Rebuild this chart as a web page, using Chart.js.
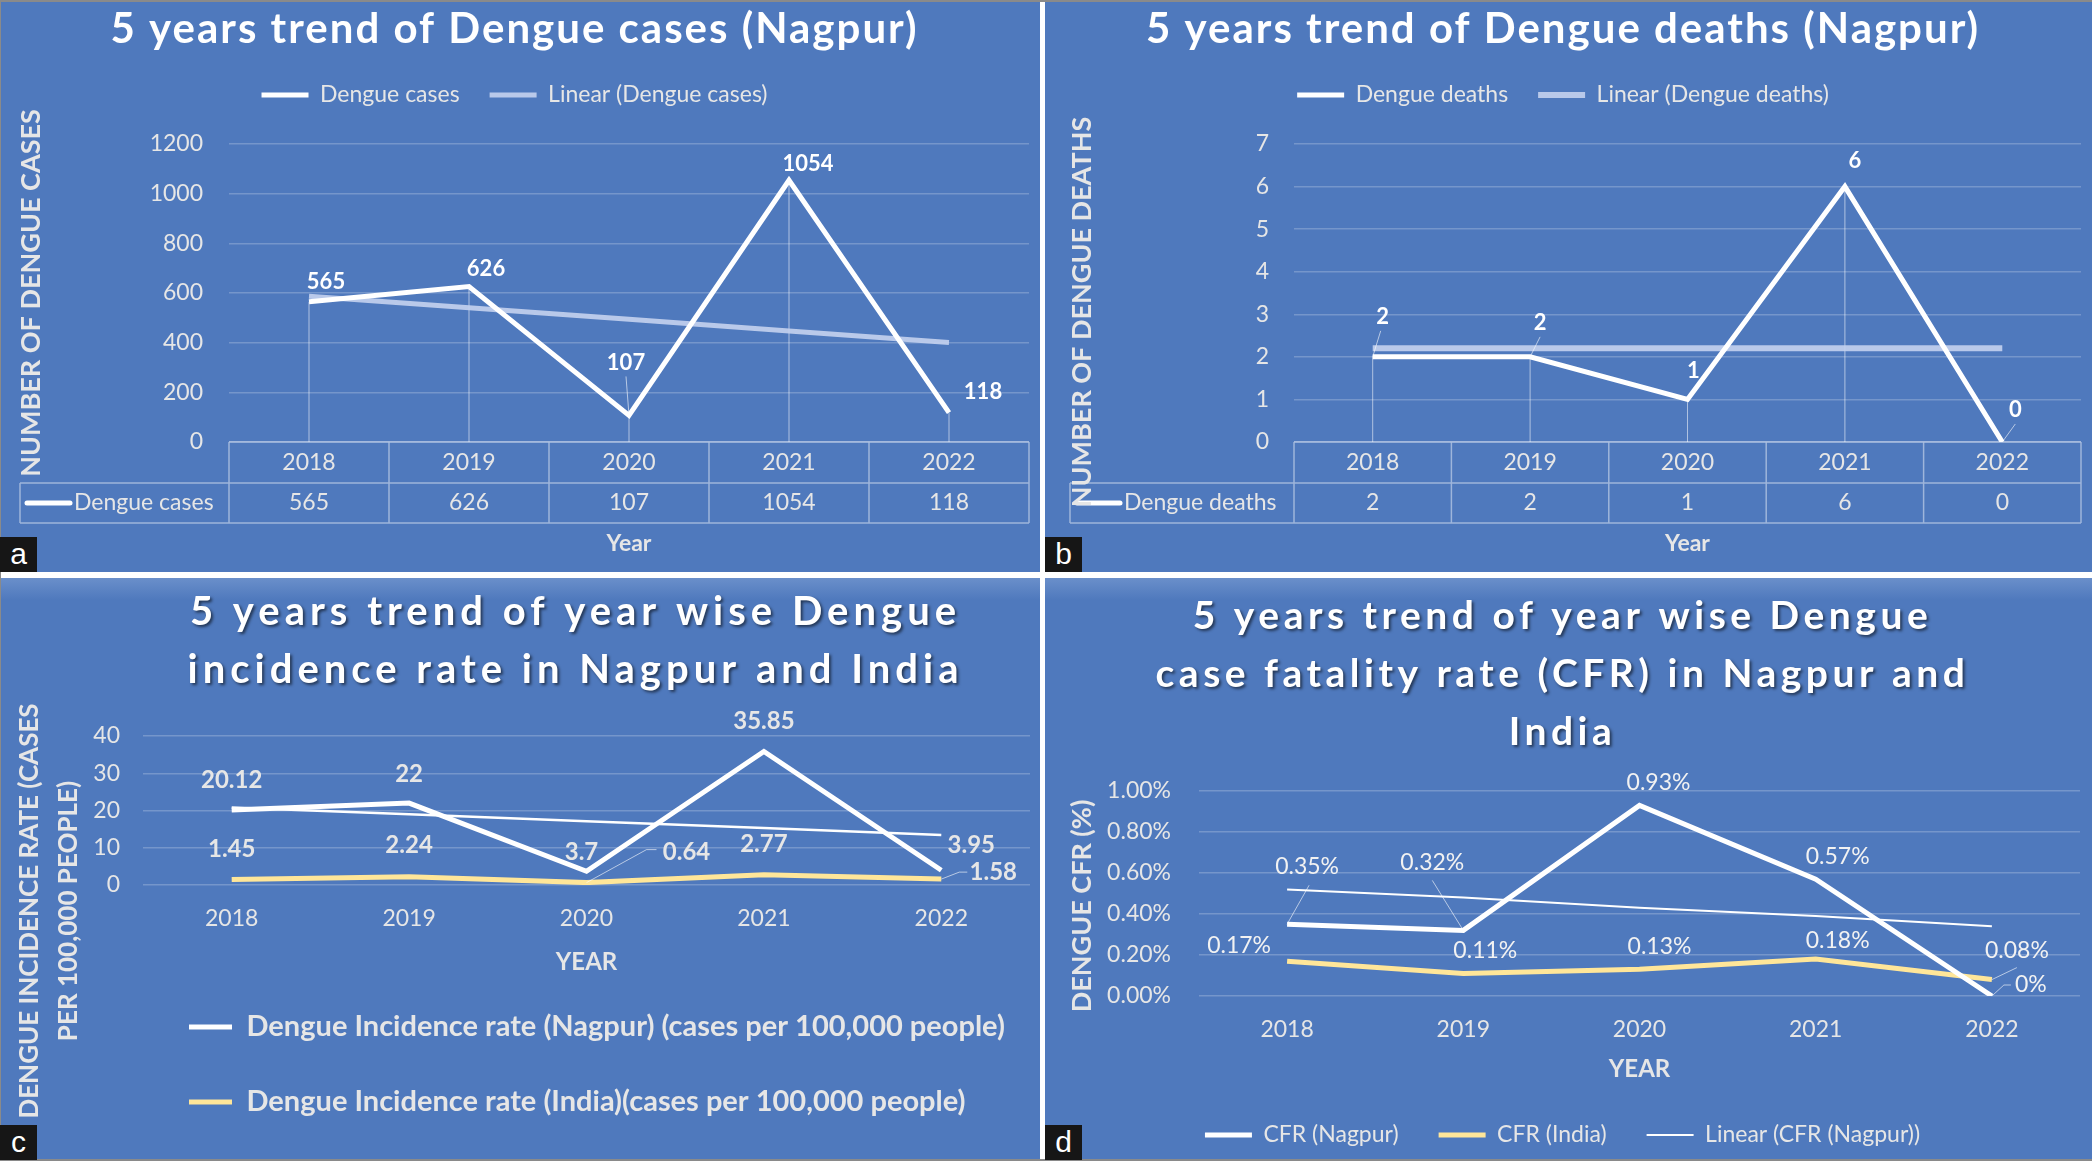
<!doctype html>
<html>
<head>
<title>Dengue trends Nagpur</title>
<script src="https://cdn.jsdelivr.net/npm/chart.js"></script>
<style>
body { margin: 0; background: #fff; }
#page { position: relative; width: 2092px; height: 1161px; background: #fff; overflow: hidden; }
.panel { position: absolute; background: #4f79bd; }
.lit { background: linear-gradient(to bottom, #6a8fca 0px, #4f79bd 22px); }
.tag { position: absolute; width: 37px; height: 35px; background: #161616; color: #fff;
       font: 30px "Liberation Sans", Arial, sans-serif; line-height: 33px; text-align: center; }
.edge { position: absolute; background: #8a8a8a; }
</style>
</head>
<body>
<div id="page">
	<div class="panel" style="left:0;top:0;width:1040px;height:572px"><canvas id="ca"></canvas></div>
	<div class="panel" style="left:1045px;top:0;width:1047px;height:572px"><canvas id="cb"></canvas></div>
	<div class="panel lit" style="left:0;top:578px;width:1040px;height:583px"><canvas id="cc"></canvas></div>
	<div class="panel lit" style="left:1045px;top:578px;width:1047px;height:583px"><canvas id="cd"></canvas></div>
	<div class="edge" style="left:0;top:0;width:2092px;height:2px"></div>
	<div class="edge" style="left:0;top:1159px;width:2092px;height:2px"></div>
	<div class="edge" style="left:0;top:0;width:1px;height:1161px"></div>
	<div class="tag" style="left:0;top:537px">a</div>
	<div class="tag" style="left:1045px;top:537px">b</div>
	<div class="tag" style="left:0;top:1125px">c</div>
	<div class="tag" style="left:1045px;top:1125px">d</div>
</div>

<script>
// ---- data ----
var years = ['2018', '2019', '2020', '2021', '2022'];

var dengueCases  = [565, 626, 107, 1054, 118];
var casesTrend   = [587, 541, 494, 447, 401];      // Excel linear trendline

var dengueDeaths = [2, 2, 1, 6, 0];
var deathsTrend  = [2.2, 2.2, 2.2, 2.2, 2.2];

var incidenceNagpur = [20.12, 22, 3.7, 35.85, 3.95];
var incidenceIndia  = [1.45, 2.24, 0.64, 2.77, 1.58];
var incidenceTrend  = [20.8, 19.0, 17.1, 15.3, 13.4];

var cfrNagpur = [0.35, 0.32, 0.93, 0.57, 0];      // percent
var cfrIndia  = [0.17, 0.11, 0.13, 0.18, 0.08];
var cfrTrend  = [0.52, 0.48, 0.43, 0.39, 0.34];

// ---- look ----
var FAM = 'Lato, "Open Sans", sans-serif';
var WHITE = '#ffffff';
var TEXT = '#e6e6e6';
var TREND = 'rgba(196,210,238,0.9)';
var YELLOW = '#ffe699';
var GRID = 'rgba(255,255,255,0.22)';

Chart.defaults.font.family = FAM;
Chart.defaults.color = TEXT;

// value labels next to the points (positions are offsets from the point)
function pointLabels(sets) {
	return {
		id: 'pointLabels',
		afterDatasetsDraw: function(chart) {
			var ctx = chart.ctx;
			sets.forEach(function(set) {
				var meta = chart.getDatasetMeta(set.index);
				var data = chart.data.datasets[set.index].data;
				ctx.save();
				ctx.font = set.font;
				ctx.fillStyle = set.color;
				ctx.textAlign = 'center';
				ctx.textBaseline = 'middle';
				meta.data.forEach(function(pt, i) {
					var p = set.pos[i];
					var lx = pt.x + p[0], ly = pt.y + p[1];
					if (p[2]) {
						ctx.strokeStyle = 'rgba(255,255,255,0.6)';
						ctx.lineWidth = 1;
						ctx.beginPath();
						p[2].forEach(function(o, k) {
							if (k === 0) ctx.moveTo(lx + o[0], ly + o[1]); else ctx.lineTo(lx + o[0], ly + o[1]);
						});
						ctx.lineTo(pt.x, pt.y);
						ctx.stroke();
					}
					ctx.fillText(String(data[i]) + (set.suffix || ''), lx, ly);
				});
				ctx.restore();
			});
		}
	};
}

// thin vertical lines from each point down to the axis
var dropLines = {
	id: 'dropLines',
	beforeDatasetsDraw: function(chart) {
		var ctx = chart.ctx, bottom = chart.chartArea.bottom;
		ctx.save();
		ctx.strokeStyle = 'rgba(255,255,255,0.55)';
		ctx.lineWidth = 1;
		chart.getDatasetMeta(0).data.forEach(function(pt) {
			ctx.beginPath(); ctx.moveTo(pt.x, pt.y); ctx.lineTo(pt.x, bottom); ctx.stroke();
		});
		ctx.restore();
	}
};

// Excel style data table under the x axis
function dataTable(tableLeft) {
	return {
		id: 'dataTable',
		afterDraw: function(chart) {
			var ctx = chart.ctx, a = chart.chartArea, xs = chart.scales.x;
			var n = chart.data.labels.length, w = (a.right - a.left) / n;
			var r1 = a.bottom + 41, r2 = a.bottom + 81;
			var ds = chart.data.datasets[0];
			ctx.save();
			ctx.strokeStyle = 'rgba(255,255,255,0.45)';
			ctx.lineWidth = 1.5;
			ctx.beginPath();
			ctx.moveTo(a.left, a.bottom); ctx.lineTo(a.right, a.bottom);
			ctx.moveTo(tableLeft, r1); ctx.lineTo(a.right, r1);
			ctx.moveTo(tableLeft, r2); ctx.lineTo(a.right, r2);
			ctx.moveTo(tableLeft, r1); ctx.lineTo(tableLeft, r2);
			for (var i = 0; i <= n; i++) {
				ctx.moveTo(a.left + i * w, a.bottom); ctx.lineTo(a.left + i * w, r2);
			}
			ctx.stroke();
			ctx.font = '23px ' + FAM;
			ctx.fillStyle = TEXT;
			ctx.textAlign = 'center';
			ctx.textBaseline = 'middle';
			var ym = (r1 + r2) / 2;
			ds.data.forEach(function(v, i) { ctx.fillText(String(v), xs.getPixelForTick(i), ym); });
			ctx.strokeStyle = ds.borderColor;
			ctx.lineWidth = 5;
			ctx.lineCap = 'round';
			ctx.beginPath(); ctx.moveTo(tableLeft + 7, ym); ctx.lineTo(tableLeft + 50, ym); ctx.stroke();
			ctx.textAlign = 'left';
			ctx.fillText(ds.label, tableLeft + 54, ym);
			ctx.restore();
		}
	};
}

// letter spacing (and optional shadow / nudge) on the chart titles
function titleStyle(spacing, shadow, dx) {
	return {
		id: 'titleStyle',
		beforeDraw: function(chart) {
			var tb = chart.titleBlock;
			if (!tb || tb._styled) return;
			var orig = tb.draw.bind(tb);
			tb.draw = function(area) {
				var ctx = chart.ctx;
				ctx.save();
				if (dx) ctx.translate(dx, 0);
				if (shadow) {
					ctx.shadowColor = 'rgba(0,0,0,0.55)';
					ctx.shadowOffsetX = 2;
					ctx.shadowOffsetY = 2;
					ctx.shadowBlur = 3;
				}
				if ('letterSpacing' in ctx) ctx.letterSpacing = spacing + 'px';
				orig(area);
				ctx.restore();
			};
			tb._styled = true;
		}
	};
}

// rotated axis title placed freely (panels b, c, d)
function sideTitle(lines, xs, yc, font) {
	return {
		id: 'sideTitle',
		afterDraw: function(chart) {
			var ctx = chart.ctx;
			ctx.save();
			ctx.font = font;
			ctx.fillStyle = TEXT;
			ctx.textAlign = 'center';
			ctx.textBaseline = 'middle';
			lines.forEach(function(t, i) {
				ctx.save();
				ctx.translate(xs[i], yc);
				ctx.rotate(-Math.PI / 2);
				ctx.fillText(t, 0, 0);
				ctx.restore();
			});
			ctx.restore();
		}
	};
}

function gapAxis(h) {
	return { position: 'top', type: 'category', display: true,
		grid: { display: false }, border: { display: false }, ticks: { display: false },
		afterFit: function(s) { s.height = h; } };
}

function lineSet(label, data, color, width) {
	return { label: label, data: data, borderColor: color, backgroundColor: color,
		borderWidth: width, pointRadius: 0, fill: false, tension: 0 };
}

function plainTick(v) { return String(v); }

// ---- a: dengue cases ----
new Chart(document.getElementById('ca'), {
	type: 'line',
	data: {
		labels: years,
		datasets: [
			lineSet('Dengue cases', dengueCases, WHITE, 5),
			lineSet('Linear (Dengue cases)', casesTrend, TREND, 5)
		]
	},
	options: {
		animation: false, responsive: true, maintainAspectRatio: false,
		layout: { padding: { left: 0, right: 11, top: 0, bottom: 0 } },
		plugins: {
			title: { display: true, text: '5 years trend of Dengue cases (Nagpur)', color: WHITE,
				font: { size: 42, weight: 'bold', lineHeight: 1.2 }, padding: { top: 3.8, bottom: -0.7 } },
			legend: { labels: { usePointStyle: true, pointStyle: 'line', pointStyleWidth: 47,
				font: { size: 23 }, color: TEXT, padding: 30 } },
			tooltip: { enabled: false }
		},
		scales: {
			x: { offset: true, grid: { display: false, drawTicks: false }, border: { display: false },
				ticks: { color: TEXT, font: { size: 23 }, padding: 7 },
				title: { display: true, text: 'Year', color: TEXT, font: { size: 23, weight: 'bold' }, padding: { top: 0, bottom: 15 } },
				afterFit: function(s) { s.height = 130; } },
			gap: gapAxis(27.5),
			y: { min: 0, max: 1200, ticks: { stepSize: 200, color: TEXT, font: { size: 23 }, padding: 26, callback: plainTick },
				grid: { color: GRID, lineWidth: 1.5, drawTicks: false }, border: { display: false },
				title: { display: true, text: 'NUMBER OF DENGUE CASES', color: TEXT, font: { size: 27, weight: 'bold' }, padding: { top: 14.8 } },
				afterFit: function(s) { s.width = 229; } }
		}
	},
	plugins: [titleStyle(2, false, 0), dropLines, dataTable(20), pointLabels([
		{ index: 0, font: 'bold 22px ' + FAM, color: WHITE,
			pos: [[17, -20], [17, -18], [-3, -53, [[0, 14]]], [19, -16], [34, -21]] }
	])]
});

// ---- b: dengue deaths ----
new Chart(document.getElementById('cb'), {
	type: 'line',
	data: {
		labels: years,
		datasets: [
			lineSet('Dengue deaths', dengueDeaths, WHITE, 5),
			lineSet('Linear (Dengue deaths)', deathsTrend, TREND, 6)
		]
	},
	options: {
		animation: false, responsive: true, maintainAspectRatio: false,
		layout: { padding: { left: 0, right: 11, top: 0, bottom: 0 } },
		plugins: {
			title: { display: true, text: '5 years trend of Dengue deaths (Nagpur)', color: WHITE,
				font: { size: 42, weight: 'bold', lineHeight: 1.2 }, padding: { top: 3.8, bottom: -0.7 } },
			legend: { labels: { usePointStyle: true, pointStyle: 'line', pointStyleWidth: 47,
				font: { size: 23 }, color: TEXT, padding: 30 } },
			tooltip: { enabled: false }
		},
		scales: {
			x: { offset: true, grid: { display: false, drawTicks: false }, border: { display: false },
				ticks: { color: TEXT, font: { size: 23 }, padding: 7 },
				title: { display: true, text: 'Year', color: TEXT, font: { size: 23, weight: 'bold' }, padding: { top: 0, bottom: 15 } },
				afterFit: function(s) { s.height = 130; } },
			gap: gapAxis(27.5),
			y: { min: 0, max: 7, ticks: { stepSize: 1, color: TEXT, font: { size: 23 }, padding: 25 },
				grid: { color: GRID, lineWidth: 1.5, drawTicks: false }, border: { display: false },
				afterFit: function(s) { s.width = 249; } }
		}
	},
	plugins: [titleStyle(2, false, 0), dropLines, dataTable(25),
		sideTitle(['NUMBER OF DENGUE DEATHS'], [37], 312, 'bold 27px ' + FAM),
		pointLabels([
			{ index: 0, font: 'bold 22px ' + FAM, color: WHITE,
				pos: [[10, -40, [[-2, 14]]], [10, -34, [[0, 14]]], [6, -29], [10, -26], [13, -32, [[0, 14]]]] }
		])]
});

// ---- c: incidence rate ----
new Chart(document.getElementById('cc'), {
	type: 'line',
	data: {
		labels: years,
		datasets: [
			lineSet('Dengue Incidence rate (Nagpur) (cases per 100,000 people)', incidenceNagpur, WHITE, 5),
			lineSet('Dengue Incidence rate (India)(cases per 100,000 people)', incidenceIndia, YELLOW, 5),
			lineSet('Linear (Nagpur)', incidenceTrend, WHITE, 2.5)
		]
	},
	options: {
		animation: false, responsive: true, maintainAspectRatio: false,
		layout: { padding: { left: 0, right: 10, top: 0, bottom: 34.5 } },
		plugins: {
			title: { display: true, fullSize: false, color: WHITE,
				text: ['5 years trend of year wise Dengue', 'incidence rate in Nagpur and India'],
				font: { size: 40, weight: 'bold', lineHeight: '58px' }, padding: { top: 5, bottom: 37 } },
			legend: { position: 'bottom', align: 'start', fullSize: false,
				labels: { filter: function(it) { return it.datasetIndex !== 2; },
					usePointStyle: true, pointStyle: 'line', pointStyleWidth: 43,
					font: { size: 29, weight: 'bold' }, color: TEXT, padding: 46 } },
			tooltip: { enabled: false }
		},
		scales: {
			x: { offset: true, grid: { display: false, drawTicks: false }, border: { display: false },
				ticks: { color: TEXT, font: { size: 23 }, padding: 20 },
				title: { display: true, text: 'YEAR', color: TEXT, font: { size: 24, weight: 'bold' }, padding: { top: 0, bottom: -9.9 } },
				afterFit: function(s) { s.height = 81.5; } },
			y: { min: 0, max: 40, ticks: { stepSize: 10, color: TEXT, font: { size: 23 }, padding: 23 },
				grid: { color: GRID, lineWidth: 1.5, drawTicks: false }, border: { display: false },
				afterFit: function(s) { s.width = 143; } }
		}
	},
	plugins: [titleStyle(5, true, -11), sideTitle(['DENGUE INCIDENCE RATE (CASES', 'PER 100,000 PEOPLE)'], [30, 69], 333, 'bold 26px ' + FAM),
		pointLabels([
			{ index: 0, font: 'bold 24px ' + FAM, color: TEXT,
				pos: [[0, -30], [0, -29], [-5, -19], [0, -30], [30, -25]] },
			{ index: 1, font: 'bold 24px ' + FAM, color: TEXT,
				pos: [[0, -30], [0, -31], [100, -30, [[-30, -3], [-40, -3]]], [0, -30], [52, -7, [[-26, 0], [-34, 0]]]] }
		])]
});

// ---- d: case fatality rate ----
new Chart(document.getElementById('cd'), {
	type: 'line',
	data: {
		labels: years,
		datasets: [
			lineSet('CFR (Nagpur)', cfrNagpur, WHITE, 5),
			lineSet('CFR (India)', cfrIndia, YELLOW, 5),
			lineSet('Linear (CFR (Nagpur))', cfrTrend, WHITE, 2)
		]
	},
	options: {
		animation: false, responsive: true, maintainAspectRatio: false,
		layout: { padding: { left: 0, right: 12, top: 0, bottom: 4.5 } },
		plugins: {
			title: { display: true, color: WHITE,
				text: ['5 years trend of year wise Dengue', 'case fatality rate (CFR) in Nagpur and', 'India'],
				font: { size: 39, weight: 'bold', lineHeight: '58px' }, padding: { top: 9, bottom: 30 } },
			legend: { position: 'bottom',
				labels: { usePointStyle: true, pointStyle: 'line', pointStyleWidth: 47,
					font: { size: 23 }, color: TEXT, padding: 40 } },
			tooltip: { enabled: false }
		},
		scales: {
			x: { offset: true, grid: { display: false, drawTicks: false }, border: { display: false },
				ticks: { color: TEXT, font: { size: 23 }, padding: 20 },
				title: { display: true, text: 'YEAR', color: TEXT, font: { size: 24, weight: 'bold' }, padding: { top: 0, bottom: 0 } },
				afterFit: function(s) { s.height = 87.5; } },
			y: { min: 0, max: 1, ticks: { stepSize: 0.2, color: TEXT, font: { size: 23 }, padding: 28,
					callback: function(v) { return v.toFixed(2) + '%'; } },
				grid: { color: GRID, lineWidth: 1.5, drawTicks: false }, border: { display: false },
				afterFit: function(s) { s.width = 154; } }
		}
	},
	plugins: [titleStyle(4.5, true, 0), sideTitle(['DENGUE CFR (%)'], [37], 328, 'bold 27px ' + FAM),
		pointLabels([
			{ index: 0, font: '23px ' + FAM, color: '#f2f2f2', suffix: '%',
				pos: [[20, -58, [[2, 19]]], [-31, -68, [[0, 18]]], [19, -23], [22, -23], [39, -11, [[-20, 0], [-27, 0]]]] },
			{ index: 1, font: '23px ' + FAM, color: '#f2f2f2', suffix: '%',
				pos: [[-48, -16], [22, -23], [20, -23], [22, -19], [25, -29, [[0, 17]]]] }
		])]
});
</script>
</body>
</html>
